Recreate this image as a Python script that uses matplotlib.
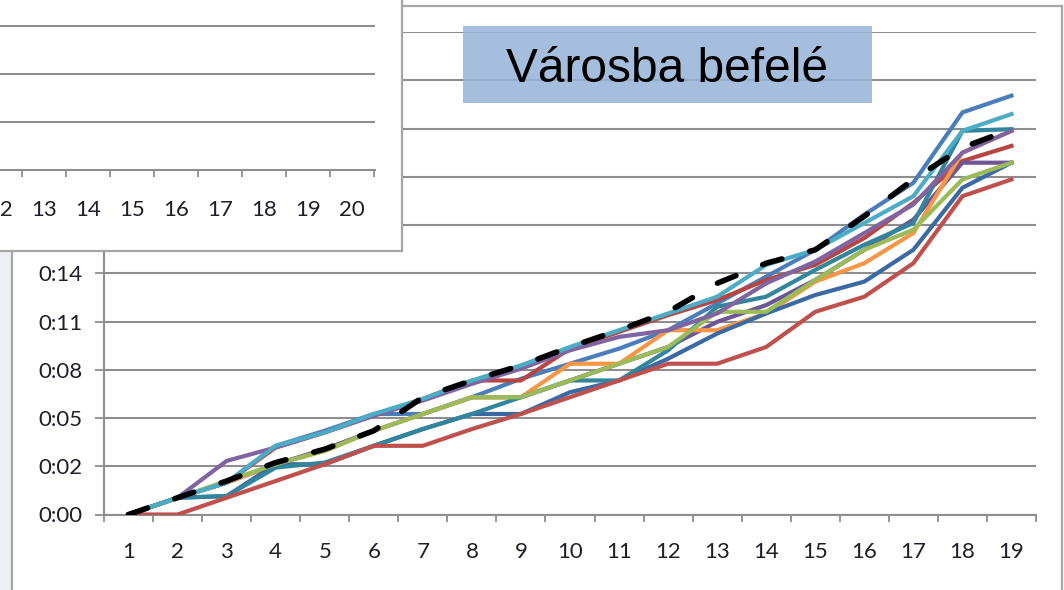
import matplotlib as mpl
mpl.use('Agg')
import matplotlib.pyplot as plt
from matplotlib.patches import Rectangle
from matplotlib.lines import Line2D

W, H = 1064, 590

# travel time in minutes per stop
stops = list(range(1, 20))
blue    = [0, 1.0, 1.9, 4.1, 5.0, 6.0, 6.0, 7.0, 8.1, 9.0, 9.9, 11.0, 12.6, 14.2, 15.8, 17.9, 19.8, 24.0, 25.0]
red_up  = [0, 1.0, 1.9, 4.0, 4.9, 5.9, 6.9, 8.0, 8.0, 9.9, 10.9, 11.9, 12.8, 14.0, 14.9, 16.5, 18.6, 21.1, 22.0]
dpurple = [0, 1.0, 1.9, 3.0, 3.9, 5.0, 6.0, 7.0, 7.0, 8.0, 9.0, 10.0, 11.5, 12.5, 14.0, 15.8, 17.6, 21.0, 21.0]
orange  = [0, 1.0, 1.9, 3.0, 3.8, 5.0, 6.0, 7.0, 7.0, 9.0, 9.0, 11.0, 11.0, 12.0, 13.9, 15.0, 16.8, 21.6, 22.9]
dblue   = [0, 1.0, 1.1, 3.0, 3.0, 4.1, 5.1, 6.0, 6.0, 7.3, 8.0, 9.3, 10.8, 12.0, 13.1, 13.9, 15.8, 19.5, 21.0]
teal    = [0, 1.0, 1.1, 2.8, 3.1, 4.1, 5.1, 6.0, 7.0, 8.0, 8.0, 9.8, 12.4, 13.0, 14.6, 16.1, 17.4, 22.9, 23.0]
green   = [0, 1.0, 2.0, 3.0, 3.8, 5.0, 6.0, 7.0, 7.0, 8.0, 9.0, 10.0, 12.1, 12.1, 14.0, 15.8, 17.0, 20.0, 21.0]
purple  = [0, 1.0, 3.2, 4.0, 4.9, 5.9, 6.8, 7.8, 8.7, 9.8, 10.6, 11.0, 12.0, 13.8, 15.1, 16.8, 18.5, 21.6, 22.9]
red_low = [0, 0.0, 1.0, 2.0, 3.0, 4.1, 4.1, 5.1, 6.0, 7.0, 8.0, 9.0, 9.0, 10.0, 12.1, 13.0, 15.0, 19.0, 20.0]
aqua    = [0, 1.0, 1.9, 4.1, 4.9, 6.0, 6.9, 8.0, 8.9, 10.0, 11.0, 12.0, 13.0, 14.9, 15.8, 17.4, 19.0, 22.9, 23.9]
dashed  = [0, 1.0, 2.0, 3.1, 3.9, 5.0, 7.0, 8.0, 8.9, 10.0, 11.0, 12.1, 13.8, 15.0, 15.8, 17.8, 20.0, 21.9, 23.0]

series = [
    (blue, '#4A7EBB'), (red_up, '#B94542'), (dpurple, '#6E5696'),
    (orange, '#F79646'), (dblue, '#3A69A3'), (teal, '#31859C'),
    (green, '#9BBB59'), (purple, '#8064A2'), (red_low, '#C0504D'),
    (aqua, '#4BACC6'),
]

step = 2.88  # minutes between gridlines
title = 'Városba befelé'
mini_labels = ['12', '13', '14', '15', '16', '17', '18', '19', '20']


def fx(px):
    return px / W


def fy(py):
    return 1 - py / H


def hmm(m):
    return '%d:%02d' % (int(m // 60), int(m % 60 + 1e-6))


fig = plt.figure(figsize=(W / 100, H / 100), dpi=100)
fig.patch.set_facecolor('white')
grid_c = '#8E8E8E'
txt_c = '#1E1E28'
font = ['Lato', 'DejaVu Sans']

# main chart
ax = fig.add_axes([fx(104), fy(514.5), fx(1036 - 104), (514.5 - 32) / H])
ax.set_xlim(0.5, 19.5)
ax.set_ylim(0, 10 * step)
for vals, c in series:
    ax.plot(stops, vals, color=c, lw=3.0, solid_joinstyle='round', zorder=3)
ax.plot(stops, dashed, color='black', lw=4.0, linestyle=(0, (3.6, 5.2)),
        dash_capstyle='round', zorder=4)

yt = [k * step for k in range(11)]
ax.set_yticks(yt)
# labels above 0:14 sit behind the overlapping panel
ax.set_yticklabels([hmm(v) if v < 15 else '' for v in yt], fontsize=16, color=txt_c, family=font)
ax.yaxis.grid(True, color=grid_c, lw=1.5)
ax.set_axisbelow(True)
ax.set_xticks([i + 0.5 for i in range(0, 20)])
ax.set_xticklabels([])
ax.set_xticks(stops, minor=True)
ax.set_xticklabels([str(s) for s in stops], minor=True, fontsize=16, color=txt_c, family=font)
ax.tick_params(axis='x', which='major', length=5, width=1.3, color=grid_c, direction='out')
ax.tick_params(axis='x', which='minor', length=0, pad=20)
ax.tick_params(axis='y', length=6.5, width=1.3, color=grid_c, pad=9)
for s in ['top', 'right']:
    ax.spines[s].set_visible(False)
for s in ['left', 'bottom']:
    ax.spines[s].set_color(grid_c)
    ax.spines[s].set_linewidth(1.5)

# slide background strip on the left
fig.patches.append(Rectangle((0, 0), fx(12), fy(251), transform=fig.transFigure,
                             facecolor='#EEF0F5', edgecolor='none', zorder=1))

# chart frame
frame_c = '#A6A6A6'
for xs, ys in [([12, 12], [251, 590]), ([402, 1062], [5.5, 5.5]), ([1062, 1062], [5.5, 590])]:
    fig.lines.append(Line2D([fx(x) for x in xs], [fy(y) for y in ys], transform=fig.transFigure,
                            color=frame_c, lw=1.6, zorder=2))

# overlapping panel with part of another chart
panel = fig.add_axes([0, fy(251), fx(402), 251 / H], zorder=10)
panel.set_facecolor('white')
panel.set_xticks([])
panel.set_yticks([])
for s in ['top', 'left']:
    panel.spines[s].set_visible(False)
for s in ['right', 'bottom']:
    panel.spines[s].set_color(frame_c)
    panel.spines[s].set_linewidth(1.6)

mini = fig.add_axes([0, fy(169.5), fx(375), 169.5 / H], zorder=11)
mini.set_facecolor('none')
sp = (374 - 13.3) / 8
x0 = 12.5 - 13.3 / sp
mini.set_xlim(x0, x0 + 375 / sp)
mini.set_ylim(0, 169.5 / 47.9)
mini.set_yticks([1, 2, 3])
mini.set_yticklabels([])
mini.tick_params(axis='y', length=0)
mini.yaxis.grid(True, color=grid_c, lw=1.5)
mini.set_xticks([12.5 + i for i in range(9)])
mini.set_xticklabels([])
mini.set_xticks([int(l) for l in mini_labels], minor=True)
mini.set_xticklabels(mini_labels, minor=True, fontsize=16, color=txt_c, family=font)
mini.tick_params(axis='x', which='major', length=5, width=1.3, color=grid_c)
mini.tick_params(axis='x', which='minor', length=0, pad=22)
for s in ['top', 'right', 'left']:
    mini.spines[s].set_visible(False)
mini.spines['bottom'].set_color(grid_c)
mini.spines['bottom'].set_linewidth(1.5)

# title box
fig.patches.append(Rectangle((fx(463), fy(103)), fx(872 - 463), (103 - 26) / H,
                             transform=fig.transFigure, facecolor='#95B3D7', alpha=0.85,
                             edgecolor='none', zorder=20))
fig.text(fx(667.5), fy(82), title, ha='center', va='baseline', fontsize=34.5,
         family=['Liberation Sans', 'DejaVu Sans'], color='black', zorder=21)

fig.savefig('out.png', dpi=100)
